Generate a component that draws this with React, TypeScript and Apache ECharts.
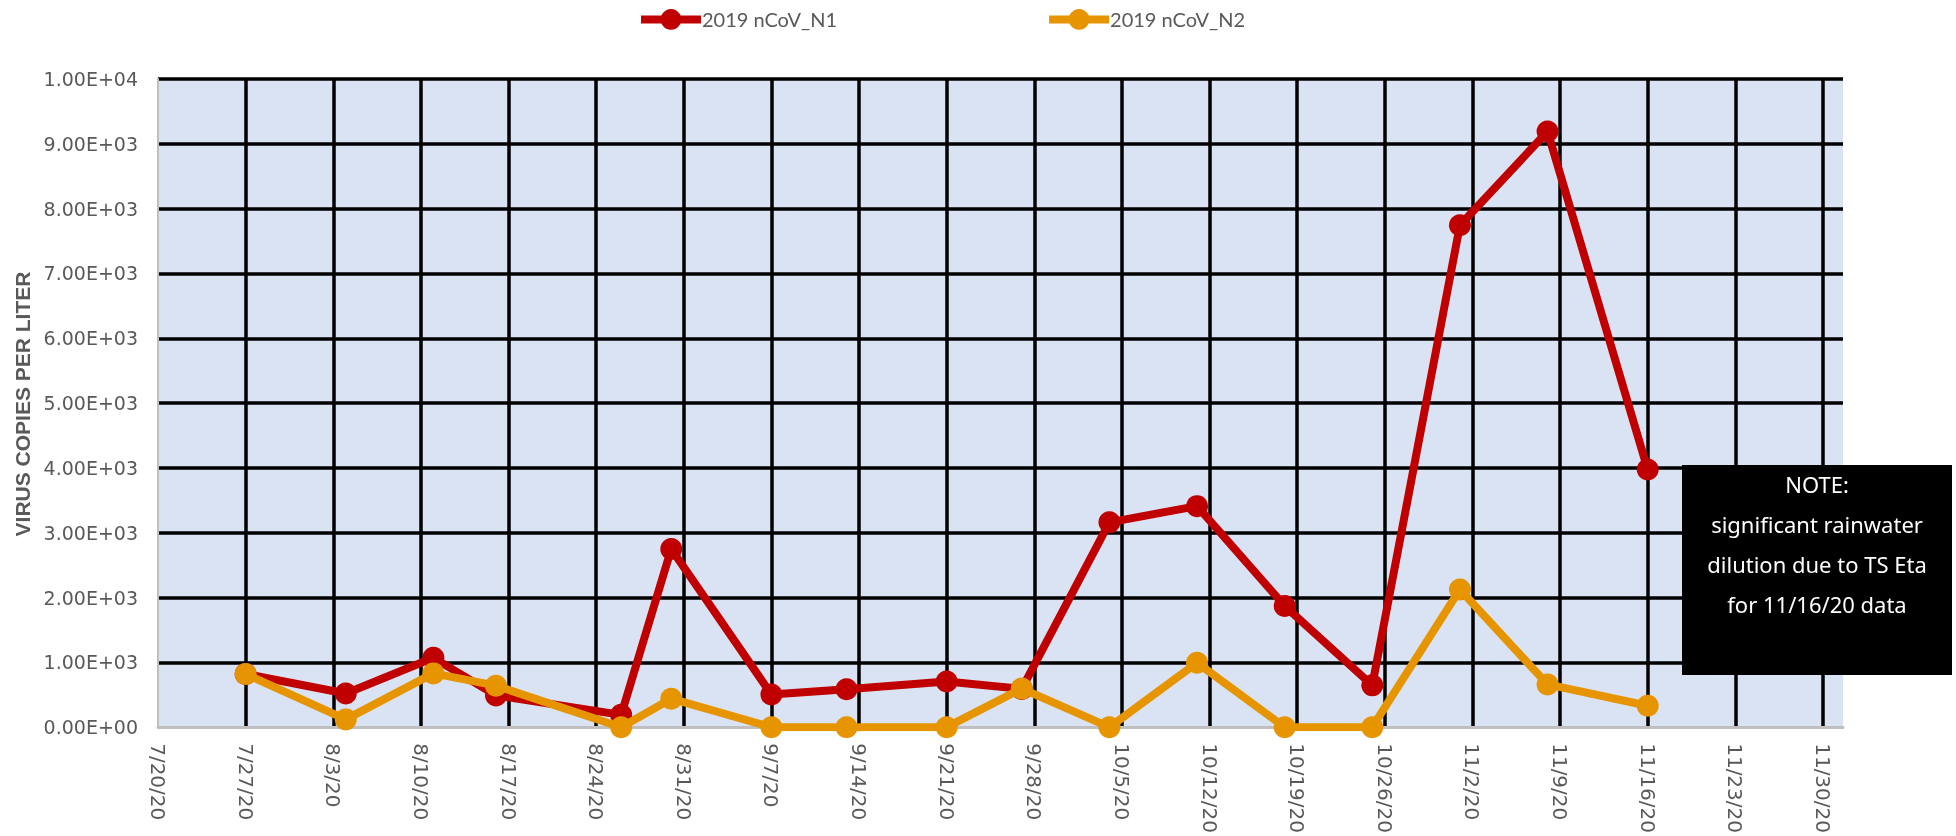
import React, { useEffect, useRef } from "react";
import * as echarts from "echarts";

const sampleDates = [
  "7/27/20", "8/4/20", "8/11/20", "8/16/20", "8/26/20", "8/30/20", "9/7/20", "9/13/20",
  "9/21/20", "9/27/20", "10/4/20", "10/11/20", "10/18/20", "10/25/20", "11/1/20", "11/8/20", "11/16/20",
];
const n1Values = [820, 520, 1070, 490, 190, 2750, 505, 585, 705, 590, 3160, 3410, 1870, 645, 7745, 9190, 3975];
const n2Values = [820, 120, 830, 640, 0, 440, 0, 0, 0, 595, 0, 995, 0, 0, 2125, 660, 330];
const seriesNames = ["2019 nCoV_N1", "2019 nCoV_N2"];
const axisStartDate = "7/20/20";
const axisEndDate = "11/30/20";
const yAxisTitle = "VIRUS COPIES PER LITER";
const noteText = "NOTE:\nsignificant rainwater\ndilution due to TS Eta\nfor 11/16/20 data";

const DAY = 86400000;
const parseDate = (s: string) => {
  const [m, d, y] = s.split("/").map(Number);
  return Date.UTC(2000 + y, m - 1, d);
};
const base = parseDate(axisStartDate);
const dayOf = (s: string) => Math.round((parseDate(s) - base) / DAY);
const fmtDay = (v: number) => {
  const dt = new Date(base + v * DAY);
  return `${dt.getUTCMonth() + 1}/${dt.getUTCDate()}/${String(dt.getUTCFullYear()).slice(2)}`;
};
const fmtSci = (v: number) => {
  if (v === 0) return "0.00E+00";
  const e = Math.floor(Math.log10(v));
  const m = v / Math.pow(10, e);
  return `${m.toFixed(2)}E+${String(e).padStart(2, "0")}`;
};

export default function App() {
  const ref = useRef<HTMLDivElement>(null);
  useEffect(() => {
    if (!ref.current) return;
    const chart = echarts.init(ref.current, undefined, { renderer: "svg" });
    const xs = sampleDates.map(dayOf);
    chart.setOption({
      animation: false,
      legend: {
        left: 632,
        top: 4,
        itemWidth: 60,
        itemHeight: 26,
        itemGap: 208,
        lineStyle: { width: 8 },
        textStyle: { color: "#595959", fontSize: 20, fontFamily: "Lato", padding: [0, 0, 0, -4] },
        data: seriesNames,
      },
      grid: {
        left: 158,
        top: 79,
        right: 113,
        bottom: 107,
        show: true,
        backgroundColor: "#dae3f3",
        borderWidth: 0,
      },
      xAxis: {
        type: "value",
        min: 0,
        max: dayOf(axisEndDate) + 1.6,
        interval: 7,
        axisLine: { show: true, lineStyle: { color: "#bfbfbf", width: 3 } },
        axisTick: { show: false },
        splitLine: { show: true, showMinLine: false, showMaxLine: false, lineStyle: { color: "#000", width: 3.5 } },
        axisLabel: {
          rotate: -90,
          margin: 16,
          color: "#595959",
          fontSize: 20,
          fontFamily: "DejaVu Sans",
          showMaxLabel: false,
          formatter: (v: number) => (Math.abs(v % 7) < 1e-6 ? fmtDay(v) : ""),
        },
      },
      yAxis: {
        type: "value",
        min: 0,
        max: 10000,
        interval: 1000,
        axisLine: { show: true, lineStyle: { color: "#bfbfbf", width: 2 } },
        axisTick: { show: false },
        splitLine: { show: true, showMinLine: false, lineStyle: { color: "#000", width: 3.5 } },
        axisLabel: {
          margin: 20,
          color: "#595959",
          fontSize: 19,
          fontFamily: "DejaVu Sans",
          formatter: fmtSci,
        },
      },
      series: [
        {
          name: seriesNames[0],
          type: "line",
          data: xs.map((x, i) => [x, n1Values[i]]),
          symbol: "circle",
          symbolSize: 22,
          lineStyle: { color: "#c00000", width: 8 },
          itemStyle: { color: "#c00000" },
          z: 3,
        },
        {
          name: seriesNames[1],
          type: "line",
          data: xs.map((x, i) => [x, n2Values[i]]),
          symbol: "circle",
          symbolSize: 22,
          lineStyle: { color: "#e69500", width: 8 },
          itemStyle: { color: "#e69500" },
          z: 4,
        },
      ],
      graphic: [
        {
          type: "text",
          x: 22,
          y: 404,
          rotation: Math.PI / 2,
          style: {
            text: yAxisTitle,
            fill: "#595959",
            font: "bold 21px 'Liberation Sans'",
            textAlign: "center",
            textVerticalAlign: "middle",
            align: "center",
            verticalAlign: "middle",
          },
        },
        {
          type: "rect",
          z: 100,
          shape: { x: 1682, y: 465, width: 270, height: 210 },
          style: { fill: "#000" },
        },
        {
          type: "text",
          z: 101,
          x: 1817,
          y: 464,
          style: {
            text: noteText,
            fill: "#fff",
            font: "22px 'Noto Sans'",
            lineHeight: 40,
            textAlign: "center",
            textVerticalAlign: "top",
            align: "center",
            verticalAlign: "top",
          },
        },
      ],
    });
    return () => chart.dispose();
  }, []);
  return <div ref={ref} style={{ position: "fixed", left: 0, top: 0, width: 1956, height: 836 }} />;
}
